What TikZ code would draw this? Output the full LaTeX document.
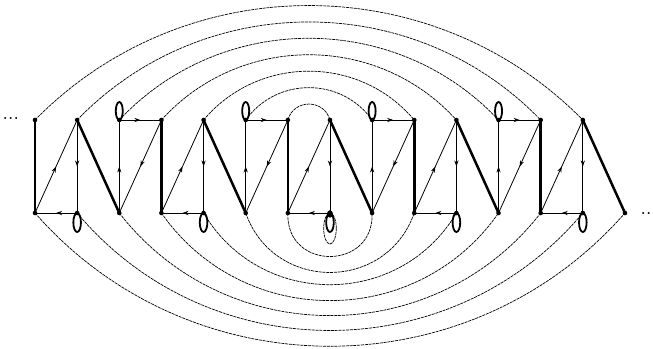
\documentclass[tikz,border=0pt]{standalone}
\usetikzlibrary{arrows.meta,decorations.markings,shapes.geometric}
\tikzset{
  dotmark/.style={circle,fill=black,inner sep=0pt,minimum size=4.6pt},
  bigdot/.style={ellipse,fill=black,inner sep=0pt,minimum width=6pt,minimum height=7.5pt},
  heavy/.style={line width=2.5pt},
  arr/.style={line width=0.8pt,postaction={decorate},
    decoration={markings,mark=at position 0.5 with {\arrow{Stealth[length=6pt,width=4.2pt]}}}},
  arcline/.style={line width=0.7pt,dash pattern=on 3pt off 0.8pt},
  loopline/.style={line width=1.8pt},
  dotsfont/.style={font=\fontsize{14}{15}\bfseries\selectfont,inner sep=0pt,anchor=base west}
}
\newcommand{\spreaddots}{.\kern1.1pt.\kern1.1pt.}
\begin{document}
\begin{tikzpicture}[x=1pt,y=1pt]
\useasboundingbox (0,0) rectangle (653,348);
\clip (0,0) rectangle (653,348);
% positions
\foreach \i in {0,...,13} \coordinate (t\i) at ({35+42.14*\i},228);
\foreach \i in {0,...,14} \coordinate (b\i) at ({35+42.14*\i},135);
% top arcs
\draw[arcline] (t6) to[out=74.4,in=105.6,looseness=1.342] (t7);
\draw[arcline] (t5) to[out=54.4,in=125.6,looseness=1.0765] (t8);
\draw[arcline] (t4) to[out=49.9,in=130.1,looseness=1.0356] (t9);
\draw[arcline] (t3) to[out=47.9,in=132.1,looseness=1.0193] (t10);
\draw[arcline] (t2) to[out=46.8,in=133.2,looseness=1.0106] (t11);
\draw[arcline] (t1) to[out=46.0,in=134.0,looseness=1.0052] (t12);
\draw[arcline] (t0) to[out=45.5,in=134.5,looseness=1.0015] (t13);
% bottom arcs
\draw[arcline] (b6) to[out=-92.1,in=-87.9,looseness=1.767] (b8);
\draw[arcline] (b5) to[out=-70.6,in=-109.4,looseness=1.2786] (b9);
\draw[arcline] (b4) to[out=-59.3,in=-120.7,looseness=1.1276] (b10);
\draw[arcline] (b3) to[out=-55.1,in=-124.9,looseness=1.0835] (b11);
\draw[arcline] (b2) to[out=-52.1,in=-127.9,looseness=1.0549] (b12);
\draw[arcline] (b1) to[out=-50.0,in=-130.0,looseness=1.0368] (b13);
\draw[arcline] (b0) to[out=-48.8,in=-131.2,looseness=1.0263] (b14);
% dashed loop at b7
\draw[arcline] ([yshift=-15.5pt]b7) ellipse [x radius=6.3pt, y radius=15.5pt];
% zigzag edges
\foreach \j in {0,...,4}{
  \pgfmathtruncatemacro\na{3*\j}
  \pgfmathtruncatemacro\nb{3*\j+1}
  \pgfmathtruncatemacro\nc{3*\j+2}
  \pgfmathtruncatemacro\nd{3*\j+3}
  \draw[heavy] (t\na) -- (b\na);
  \draw[arr] (b\na) -- (t\nb);
  \draw[arr] (t\nb) -- (b\nb);
  \draw[arr] (b\nb) -- (b\na);
  \draw[heavy] (t\nb) -- (b\nc);
  \ifnum\j<4
    \draw[arr] (b\nc) -- (t\nc);
    \draw[arr] (t\nc) -- (t\nd);
    \draw[arr] (t\nd) -- (b\nc);
  \fi
}
% self loops
\foreach \i in {2,5,8,11}
  \draw[loopline] ([yshift=9pt]t\i) ellipse [x radius=3.5pt, y radius=9pt];
\foreach \i in {1,4,7,10,13}
  \draw[loopline] ([yshift=-9.5pt]b\i) ellipse [x radius=3.8pt, y radius=9.5pt];
% dots
\foreach \i in {0,...,13} \node[dotmark] (dt\i) at (t\i) {};
\foreach \i in {0,...,14} \node[dotmark] (db\i) at (b\i) {};
\node[bigdot] (bd7) at ([yshift=-1pt]b7) {};
% ellipses
\node[dotsfont] (ldots) at (3,228.2) {\spreaddots};
\node[dotsfont] (rdots) at (641,133.2) {\spreaddots};
\end{tikzpicture}
\end{document}
